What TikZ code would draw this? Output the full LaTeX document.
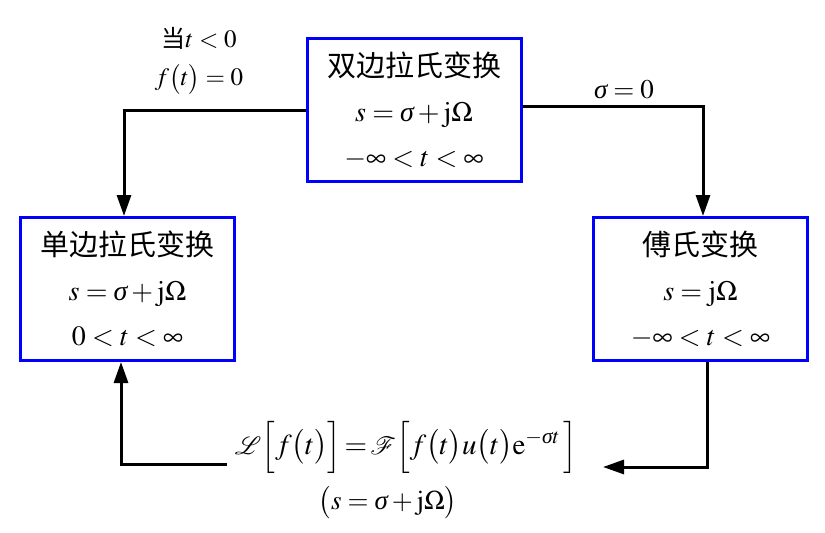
\documentclass[tikz,border=0pt]{standalone}
\usepackage{amsmath}
\usepackage{mathptmx}
\usepackage{mathrsfs}
\usepackage{fontspec}
\setmainfont{Liberation Serif}
\usetikzlibrary{arrows.meta}
\newfontfamily\cjk{Noto Sans CJK SC}
\newcommand{\sg}{\text{\itshape σ}}
\begin{document}
\begin{tikzpicture}[x=1pt,y=-1pt,
  box/.style={draw=blue, line width=3pt, minimum width=214pt, minimum height=143pt, align=center, inner sep=0pt, font=\fontsize{28}{45}\selectfont},
  arr/.style={draw=black, line width=3pt, -{Triangle[width=14pt,length=21pt]}},
  lbl/.style={font=\fontsize{27}{38}\selectfont, align=center, inner sep=0pt}]
\useasboundingbox (0,0) rectangle (825,533);
\newcommand{\cs}[1]{{\cjk\fontsize{29}{30}\selectfont #1}}
\newcommand{\cl}[1]{{\cjk\fontsize{24}{30}\selectfont #1}}
\node[box] (top) at (414,110) {\cs{双边拉氏变换}\\ $s=\sg+\mathrm{j}\Omega$\\ $-\infty<t<\infty$};
\node[box] (left) at (127.5,289) {\cs{单边拉氏变换}\\ $s=\sg+\mathrm{j}\Omega$\\ $0<t<\infty$};
\node[box] (right) at (700.5,289) {\cs{傅氏变换}\\ $s=\mathrm{j}\Omega$\\ $-\infty<t<\infty$};
\node[lbl, font=\fontsize{25}{38}\selectfont] (cond) at (199,61) {\cl{当}$t<0$\\ $f\bigl(t\bigr)=0$};
\node[lbl] (sig) at (624,90) {$\sg=0$};
\node[lbl, font=\fontsize{29}{38}\selectfont] (form) at (406,447) {$\mathscr{L}\Bigl[f\bigl(t\bigr)\Bigr]\!=\!\mathscr{F}\Bigl[f\bigl(t\bigr)u\bigl(t\bigr)\mathrm{e}^{-\sg t}\,\Bigr]$};
\node[lbl] (cond2) at (388,503) {$\bigl(s=\sg+\mathrm{j}\Omega\bigr)$};
\coordinate (c1) at (603,467);
\coordinate (c2) at (227,464);
\draw[arr] (top.west) -| ([xshift=-3.5pt]left.north);
\draw[arr] ([yshift=4pt]top.east) -| ([xshift=2.5pt]right.north);
\draw[arr] ([xshift=6.5pt]right.south) |- (c1);
\draw[arr] (c2) -| ([xshift=-6.5pt]left.south);
\end{tikzpicture}
\end{document}
